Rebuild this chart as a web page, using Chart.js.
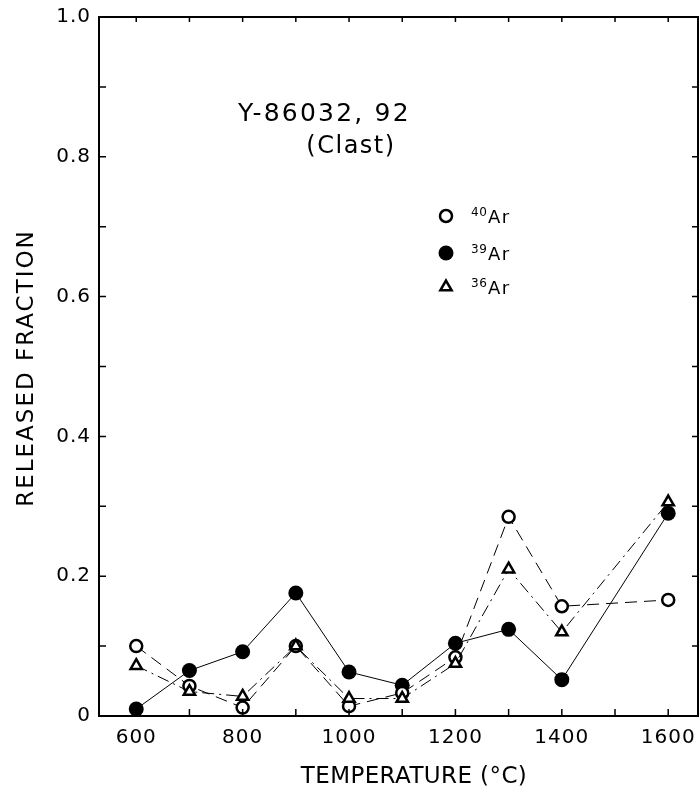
<!DOCTYPE html>
<html>
<head>
<meta charset="utf-8">
<script src="https://cdn.jsdelivr.net/npm/chart.js@4.4.1/dist/chart.umd.min.js"></script>
<style>
  html, body { margin: 0; padding: 0; background: #fff; }
</style>
</head>
<body>
<canvas id="releaseChart" width="700" height="787"></canvas>
<script>
// temperature steps (°C) and released fractions
const temperatures = [600, 700, 800, 900, 1000, 1100, 1200, 1300, 1400, 1600];
const ar40 = [0.100, 0.043, 0.012, 0.100, 0.014, 0.033, 0.084, 0.285, 0.157, 0.166];
const ar39 = [0.010, 0.065, 0.092, 0.176, 0.063, 0.044, 0.104, 0.124, 0.052, 0.290];
const ar36 = [0.072, 0.035, 0.028, 0.100, 0.025, 0.025, 0.075, 0.210, 0.120, 0.306];

const xTicks = [600, 700, 800, 900, 1000, 1100, 1200, 1300, 1400, 1500, 1600];
const yTicks = [0, 0.1, 0.2, 0.3, 0.4, 0.5, 0.6, 0.7, 0.8, 0.9, 1.0];

const sampleTitle = 'Y-86032, 92';
const sampleNote = '(Clast)';
const legendMasses = ['40', '39', '36'];
const xTitle = 'TEMPERATURE (°C)';
const yTitle = 'RELEASED FRACTION';

const FONT = '"DejaVu Sans", sans-serif';

function toPoints(values) {
  return temperatures.map((t, i) => ({ x: t, y: values[i] }));
}

function putText(ctx, str, x, y, size, spacing, align) {
  ctx.font = size + 'px ' + FONT;
  ctx.letterSpacing = spacing + 'px';
  ctx.textAlign = align || 'left';
  ctx.textBaseline = 'alphabetic';
  ctx.fillText(str, x, y);
}

function drawSymbol(ctx, kind, x, y) {
  ctx.beginPath();
  if (kind === 'triangle') {
    const r = 6.5;
    for (let k = 0; k < 3; k++) {
      const a = k * 2 * Math.PI / 3;
      const px = x + Math.sin(a) * r, py = y - Math.cos(a) * r;
      if (k === 0) ctx.moveTo(px, py); else ctx.lineTo(px, py);
    }
    ctx.closePath();
    ctx.fillStyle = '#fff';
    ctx.lineWidth = 2.5;
    ctx.fill();
    ctx.stroke();
  } else if (kind === 'filled') {
    ctx.arc(x, y, 7.5, 0, 2 * Math.PI);
    ctx.fillStyle = '#000';
    ctx.fill();
  } else {
    ctx.arc(x, y, 6, 0, 2 * Math.PI);
    ctx.fillStyle = '#fff';
    ctx.lineWidth = 2.5;
    ctx.fill();
    ctx.stroke();
  }
}

// frame, inward ticks, titles and the in-plot legend
const framePlugin = {
  id: 'framePlugin',
  beforeDraw(chart) {
    chart.ctx.letterSpacing = '1px'; // slightly open lettering for tick labels
  },
  afterDraw(chart) {
    const { ctx, chartArea: a, scales: { x, y } } = chart;
    ctx.save();
    ctx.strokeStyle = '#000';
    ctx.fillStyle = '#000';

    ctx.lineWidth = 2;
    ctx.strokeRect(a.left, a.top, a.right - a.left, a.bottom - a.top);

    ctx.lineWidth = 1.5;
    ctx.beginPath();
    xTicks.forEach(v => {
      const px = x.getPixelForValue(v);
      ctx.moveTo(px, a.bottom); ctx.lineTo(px, a.bottom - 7);
      ctx.moveTo(px, a.top); ctx.lineTo(px, a.top + 5);
    });
    yTicks.slice(1, -1).forEach(v => {
      const py = y.getPixelForValue(v);
      ctx.moveTo(a.left, py); ctx.lineTo(a.left + 7, py);
      ctx.moveTo(a.right, py); ctx.lineTo(a.right - 6, py);
    });
    ctx.stroke();

    ctx.fillStyle = '#000';
    putText(ctx, sampleTitle, 238, 121, 25, 2.2);
    putText(ctx, sampleNote, 351, 153, 24, 1.5, 'center');

    putText(ctx, xTitle, 414, 783, 23, 0.4, 'center');
    ctx.save();
    ctx.translate(33, 368);
    ctx.rotate(-Math.PI / 2);
    putText(ctx, yTitle, 0, 0, 23, 2, 'center');
    ctx.restore();

    const kinds = ['open', 'filled', 'triangle'];
    const rows = [216, 253, 287];
    legendMasses.forEach((m, i) => {
      ctx.strokeStyle = '#000';
      drawSymbol(ctx, kinds[i], 446, rows[i]);
      ctx.fillStyle = '#000';
      putText(ctx, m, 471, rows[i], 12, 0.5);
      putText(ctx, 'Ar', 488, rows[i] + 7, 18, 1.5);
    });
    ctx.restore();
  }
};

new Chart(document.getElementById('releaseChart'), {
  type: 'line',
  data: {
    datasets: [
      {
        label: '36Ar',
        data: toPoints(ar36),
        borderColor: '#000',
        borderWidth: 1,
        borderDash: [12, 5, 2, 5],
        pointStyle: 'triangle',
        pointRadius: 6.5,
        pointBorderWidth: 2.5,
        pointBackgroundColor: '#fff',
        pointBorderColor: '#000'
      },
      {
        label: '40Ar',
        data: toPoints(ar40),
        borderColor: '#000',
        borderWidth: 1,
        borderDash: [12, 7],
        pointStyle: 'circle',
        pointRadius: 6,
        pointBorderWidth: 2.5,
        pointBackgroundColor: '#fff',
        pointBorderColor: '#000'
      },
      {
        label: '39Ar',
        data: toPoints(ar39),
        borderColor: '#000',
        borderWidth: 1,
        pointStyle: 'circle',
        pointRadius: 7.5,
        pointBorderWidth: 0,
        pointBackgroundColor: '#000',
        pointBorderColor: '#000'
      }
    ]
  },
  options: {
    responsive: false,
    animation: false,
    layout: { autoPadding: false, padding: { top: 17, right: 2, left: 0, bottom: 0 } },
    plugins: { legend: { display: false }, tooltip: { enabled: false } },
    elements: { line: { tension: 0 } },
    scales: {
      x: {
        type: 'linear',
        min: 530,
        max: 1656,
        grid: { display: false, drawTicks: false },
        border: { display: false },
        afterFit(scale) {
          scale.height = 71;
          scale.paddingLeft = 0;
          scale.paddingRight = 0;
        },
        afterBuildTicks(scale) { scale.ticks = xTicks.map(v => ({ value: v })); },
        ticks: {
          autoSkip: false,
          maxRotation: 0,
          padding: 10,
          color: '#000',
          font: { family: FONT, size: 20 },
          callback: v => (v % 200 === 0 ? String(v) : '')
        }
      },
      y: {
        min: 0,
        max: 1,
        grid: { display: false, drawTicks: false },
        border: { display: false },
        afterFit(scale) {
          scale.width = 99;
          scale.paddingTop = 0;
          scale.paddingBottom = 0;
        },
        afterBuildTicks(scale) { scale.ticks = yTicks.map(v => ({ value: v })); },
        ticks: {
          autoSkip: false,
          padding: 8,
          color: '#000',
          font: { family: FONT, size: 20 },
          callback: v => {
            const tenth = Math.round(v * 10);
            if (tenth % 2 !== 0) return '';
            return tenth === 0 ? '0' : v.toFixed(1);
          }
        }
      }
    }
  },
  plugins: [framePlugin]
});
</script>
</body>
</html>
